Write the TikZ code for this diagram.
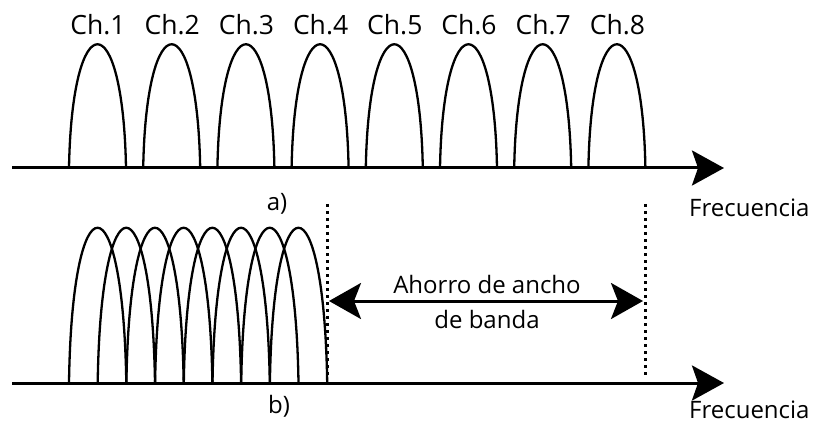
\documentclass[tikz,border=0pt]{standalone}
\usepackage{fontspec}
\setmainfont{Open Sans}
\usetikzlibrary{arrows.meta}
\begin{document}
\begin{tikzpicture}[x=1pt,y=-1pt,
  axis/.style={line width=3pt,-{Stealth[length=32pt,width=35pt,inset=6pt]}},
  hump/.style={line width=2.3pt},
  dotline/.style={line width=3pt,dash pattern=on 3pt off 4pt},
  dbl/.style={line width=3pt,{Stealth[length=32pt,width=36pt,inset=7pt]}-{Stealth[length=32pt,width=36pt,inset=7pt]}},
  lbl/.style={inner sep=0pt,anchor=base,font=\fontsize{26.5}{30}\selectfont},
  txt/.style={inner sep=0pt,anchor=base,font=\fontsize{24}{28}\selectfont},
  ]
\useasboundingbox (0,0) rectangle (820,425);
% ---- a) ----
\coordinate (a0) at (12,168);
\coordinate (a1) at (724,168);
\foreach \i in {1,...,8}{
  \pgfmathsetmacro{\xs}{69+74.2*(\i-1)}
  \draw[hump] (\xs,168) .. controls (\xs+3,3) and (\xs+54,3) .. (\xs+57,168);
  \node[lbl] (ch\i) at (\xs+29,35) {Ch.\i};
}
\draw[axis] (a0) -- (a1);
\node[txt] (la) at (277,211) {a)};
\node[txt,anchor=base west] (fa) at (689,216) {Frecuencia};
% ---- b) ----
\coordinate (b0) at (12,383);
\coordinate (b1) at (724,383);
\foreach \i in {1,...,8}{
  \pgfmathsetmacro{\xs}{69+28.7*(\i-1)}
  \draw[hump] (\xs,383) .. controls (\xs+3,176) and (\xs+54,176) .. (\xs+57.3,383);
}
\draw[axis] (b0) -- (b1);
\node[txt] (lb) at (279,413) {b)};
\node[txt,anchor=base west] (fb) at (689,418) {Frecuencia};
% dotted lines
\coordinate (d1t) at (327,204);
\coordinate (d1b) at (327,378);
\coordinate (d2t) at (645,204);
\coordinate (d2b) at (645,378);
\draw[dotline] (d1t) -- (d1b);
\draw[dotline] (d2t) -- (d2b);
\coordinate (h1) at (329,301);
\coordinate (h2) at (643,301);
\draw[dbl] (h1) -- (h2);
\node[txt] (t1) at (487,293) {Ahorro de ancho};
\node[txt] (t2) at (487,328) {de banda};
\end{tikzpicture}
\end{document}
